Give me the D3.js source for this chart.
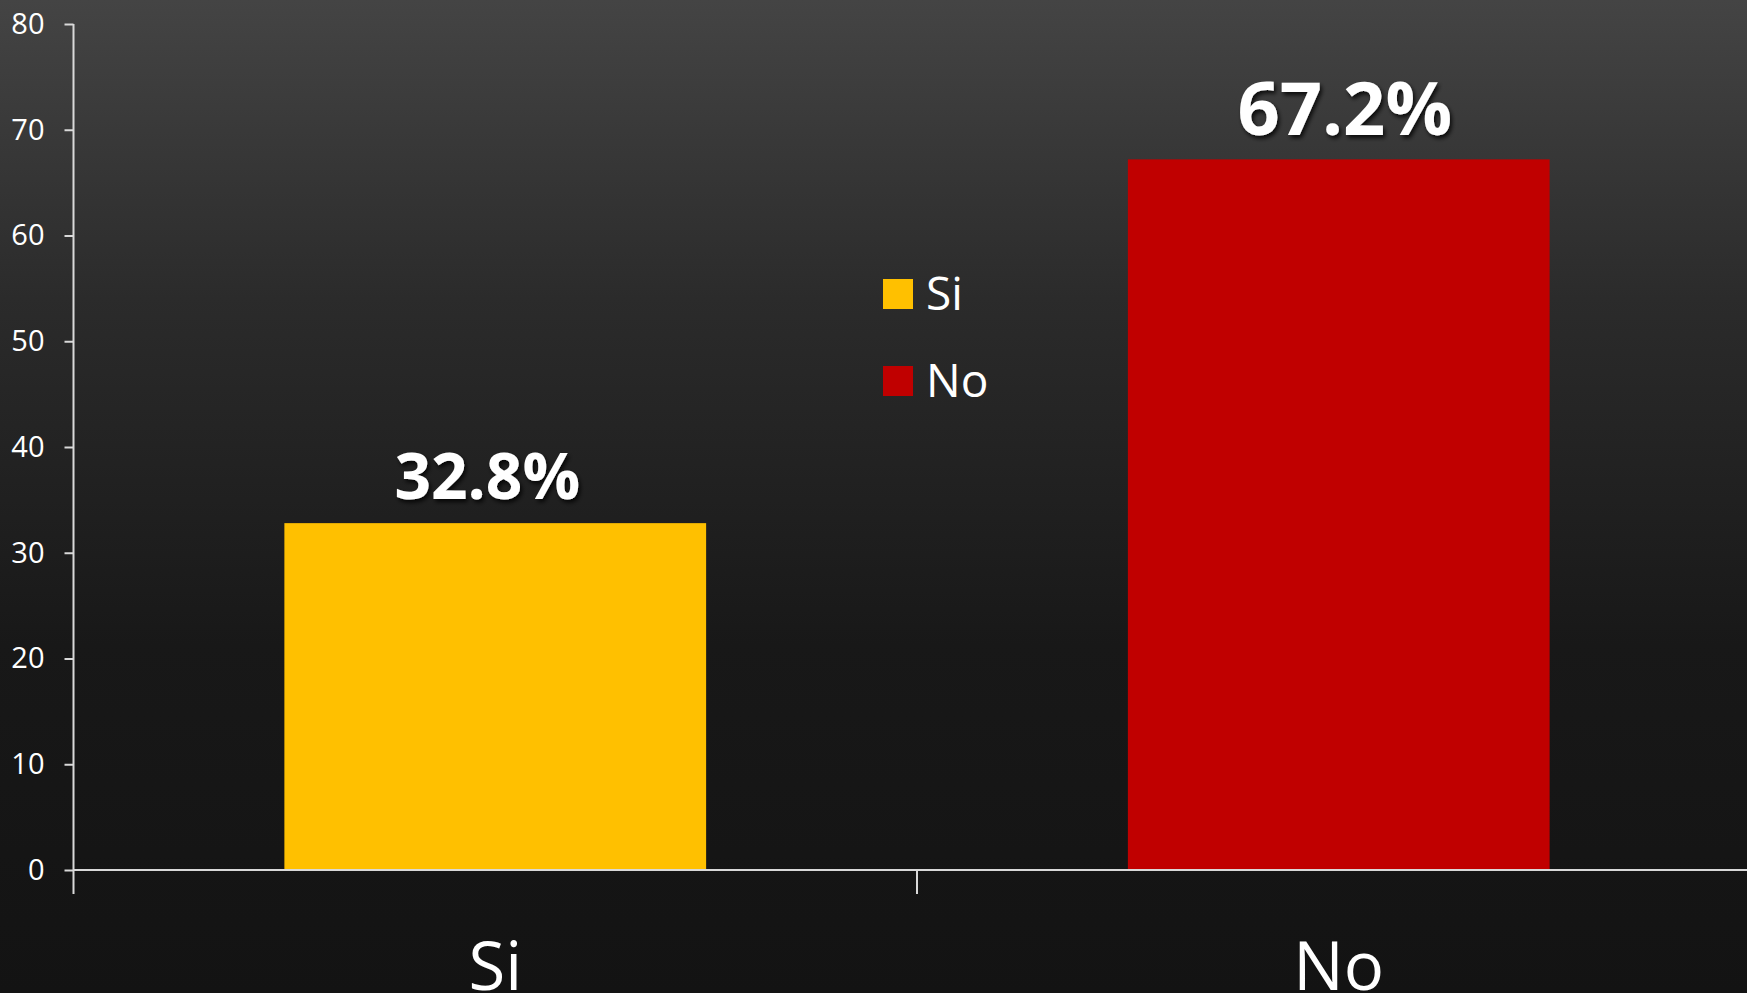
<!DOCTYPE html>
<html>
<head>
<meta charset="utf-8">
<script src="https://cdn.jsdelivr.net/npm/d3@7"></script>
<style>
    html, body { margin: 0; padding: 0; overflow: hidden; background: #141414; }
    text { font-family: "Open Sans", "Noto Sans", sans-serif; fill: #ffffff; }
</style>
</head>
<body>
<div id="chart"></div>
<script>
// Data
const categories = ["Si", "No"];
const values = [32.8, 67.2];
const valueLabels = ["32.8%", "67.2%"];
const barColors = ["#FFC000", "#C00000"];
const yTicks = [0, 10, 20, 30, 40, 50, 60, 70, 80];

const width = 1747;
const height = 993;
const margin = { left: 73.5, top: 24, bottom: 123 };
const innerHeight = height - margin.top - margin.bottom;
const axisColor = "#d9d9d9";

const svg = d3.select("#chart")
    .append("svg")
    .attr("width", width)
    .attr("height", height);

/* Background gradient */
const defs = svg.append("defs");
const grad = defs.append("linearGradient")
    .attr("id", "bg")
    .attr("x1", 0).attr("y1", 0).attr("x2", 0).attr("y2", 1);
grad.append("stop").attr("offset", "0%").attr("stop-color", "#444444");
grad.append("stop").attr("offset", "30%").attr("stop-color", "#2b2b2b");
grad.append("stop").attr("offset", "65%").attr("stop-color", "#181818");
grad.append("stop").attr("offset", "100%").attr("stop-color", "#131313");

const shadow = defs.append("filter")
    .attr("id", "shadow")
    .attr("x", "-10%").attr("y", "-10%")
    .attr("width", "130%").attr("height", "140%");
shadow.append("feDropShadow")
    .attr("dx", 2).attr("dy", 3)
    .attr("stdDeviation", 2)
    .attr("flood-color", "#000")
    .attr("flood-opacity", 0.8);

svg.append("rect")
    .attr("width", width)
    .attr("height", height)
    .attr("fill", "url(#bg)");

/* Scales */
const xScale = d3.scaleBand()
    .domain(categories)
    .range([margin.left, margin.left + 2 * 843.5])
    .paddingInner(0.5)
    .paddingOuter(0.25);

const yScale = d3.scaleLinear()
    .domain([0, 80])
    .range([margin.top + innerHeight, margin.top]);

const step = xScale.step();

/* Bars */
svg.selectAll("rect.bar")
    .data(categories)
    .join("rect")
    .attr("class", "bar")
    .attr("x", d => xScale(d))
    .attr("y", (d, i) => yScale(values[i]))
    .attr("width", xScale.bandwidth())
    .attr("height", (d, i) => yScale(0) - yScale(values[i]))
    .attr("fill", (d, i) => barColors[i]);

/* Value labels (slightly off-centre in the original) */
svg.selectAll("text.value")
    .data(categories)
    .join("text")
    .attr("class", "value")
    .attr("x", d => xScale(d) + xScale.bandwidth() / 2)
    .attr("dx", (d, i) => i === 0 ? -8 : 6)
    .attr("y", (d, i) => yScale(values[i]) - 24)
    .attr("text-anchor", "middle")
    .attr("font-weight", "bold")
    .attr("font-size", (d, i) => i === 0 ? 64 : 74)
    .attr("filter", "url(#shadow)")
    .text((d, i) => valueLabels[i]);

/* Y axis */
const yAxisGroup = svg.append("g")
    .attr("transform", `translate(${margin.left},0)`)
    .call(d3.axisLeft(yScale).tickValues(yTicks).tickSize(9).tickPadding(20));
yAxisGroup.select(".domain").remove();
yAxisGroup.selectAll(".tick line").attr("stroke", axisColor).attr("stroke-width", 2);
yAxisGroup.selectAll(".tick text")
    .attr("font-size", 29)
    .attr("font-family", "'Open Sans', sans-serif")
    .attr("fill", "#f2f2f2");
yAxisGroup.append("line")
    .attr("x1", 0).attr("x2", 0)
    .attr("y1", yScale(80)).attr("y2", yScale(0) + 24)
    .attr("stroke", axisColor)
    .attr("stroke-width", 2);

/* X axis: baseline, boundary ticks, category labels */
const xAxisGroup = svg.append("g");
xAxisGroup.append("line")
    .attr("x1", margin.left).attr("x2", width)
    .attr("y1", yScale(0)).attr("y2", yScale(0))
    .attr("stroke", axisColor)
    .attr("stroke-width", 2);

xAxisGroup.selectAll("line.tick")
    .data(categories)
    .join("line")
    .attr("class", "tick")
    .attr("x1", d => xScale(d) + xScale.bandwidth() + step * 0.25)
    .attr("x2", d => xScale(d) + xScale.bandwidth() + step * 0.25)
    .attr("y1", yScale(0))
    .attr("y2", yScale(0) + 24)
    .attr("stroke", axisColor)
    .attr("stroke-width", 2);

xAxisGroup.selectAll("text.cat")
    .data(categories)
    .join("text")
    .attr("class", "cat")
    .attr("x", d => xScale(d) + xScale.bandwidth() / 2)
    .attr("y", 990)
    .attr("text-anchor", "middle")
    .attr("font-size", 67)
    .text(d => d);

/* Legend */
const legend = svg.append("g")
    .attr("transform", "translate(883,279)");
const items = legend.selectAll("g")
    .data(categories)
    .join("g")
    .attr("transform", (d, i) => `translate(0,${i * 87})`);
items.append("rect")
    .attr("width", 30)
    .attr("height", 30)
    .attr("fill", (d, i) => barColors[i]);
items.append("text")
    .attr("x", 43)
    .attr("y", 31)
    .attr("font-size", 46)
    .text(d => d);
</script>
</body>
</html>
